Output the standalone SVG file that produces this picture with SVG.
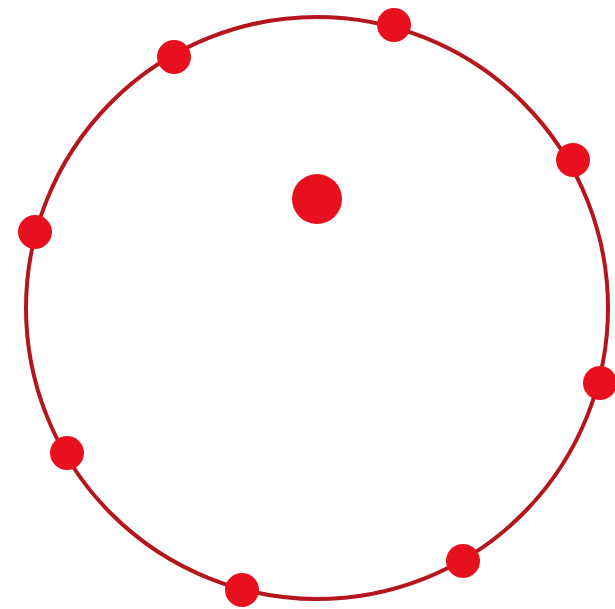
<svg xmlns="http://www.w3.org/2000/svg" width="615" height="609" viewBox="0 0 615 609">
<style>
.ring{fill:none;stroke:#b4161c;stroke-width:4}
.dot{fill:#e8101e}
</style>
<rect width="615" height="609" fill="#ffffff"/>
<g id="ring"><circle class="ring" cx="317" cy="308" r="291"/></g>
<g id="center"><circle class="dot" cx="317" cy="199" r="25"/></g>
<g id="p1"><circle class="dot" cx="174" cy="57" r="17"/></g>
<g id="p2"><circle class="dot" cx="394" cy="25" r="17"/></g>
<g id="p3"><circle class="dot" cx="573" cy="160" r="17"/></g>
<g id="p4"><circle class="dot" cx="35" cy="232" r="17"/></g>
<g id="p5"><circle class="dot" cx="600" cy="383" r="17"/></g>
<g id="p6"><circle class="dot" cx="67" cy="453" r="17"/></g>
<g id="p7"><circle class="dot" cx="463" cy="561" r="17"/></g>
<g id="p8"><circle class="dot" cx="242" cy="590" r="17"/></g>
</svg>
